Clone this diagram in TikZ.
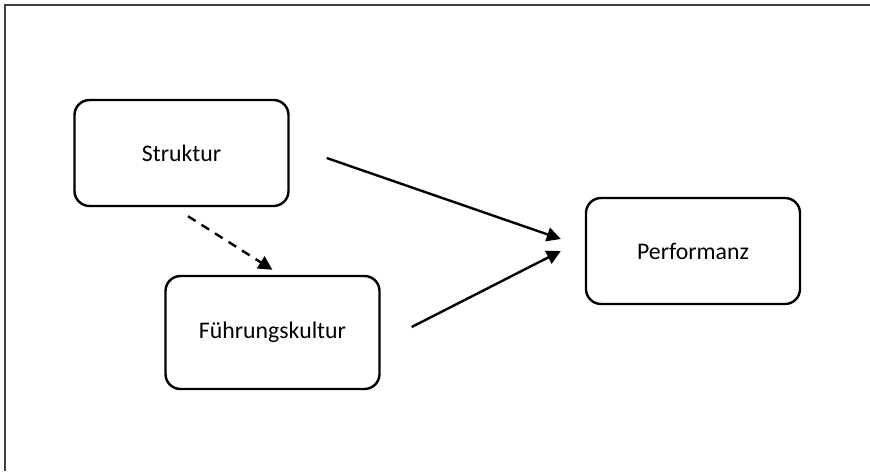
\documentclass[tikz,border=0pt]{standalone}
\usepackage{fontspec}
\setmainfont{Carlito}
\usetikzlibrary{arrows.meta}

\begin{document}
\begin{tikzpicture}[x=0.5pt, y=-0.5pt,
    box/.style={draw, line width=1.2pt, rounded corners=7.5pt, minimum width=107pt,
      minimum height=53pt, font=\fontsize{11.9}{14}\selectfont},
    pfeil/.style={line width=1.2pt, -{Triangle[length=7pt, width=7pt]}}]
    \useasboundingbox (0, 0) rectangle (870, 471);
    \draw[line width=1.1pt, black!75] (5, 471) -- (5, 5) -- (870, 5);

    \node[box] (st) at (181.5, 153) {Struktur};
    \node[box, minimum height=56.5pt] (fk) at (272.5, 332.5) {Führungskultur};
    \node[box] (pf) at (693, 251) {Performanz};

    \draw[pfeil] ([xshift=18.5pt, yshift=-2.5pt]st.east) -- ([xshift=-12pt, yshift=6pt]pf.west);
    \draw[pfeil] ([xshift=15.5pt, yshift=2.75pt]fk.east) -- ([xshift=-12pt]pf.west);
    \draw[pfeil, dash pattern=on 4.5pt off 3.5pt] ([xshift=3.25pt, yshift=-4.5pt]st.south) -- ([yshift=2.5pt]fk.north);
  \end{tikzpicture}
\end{document}
